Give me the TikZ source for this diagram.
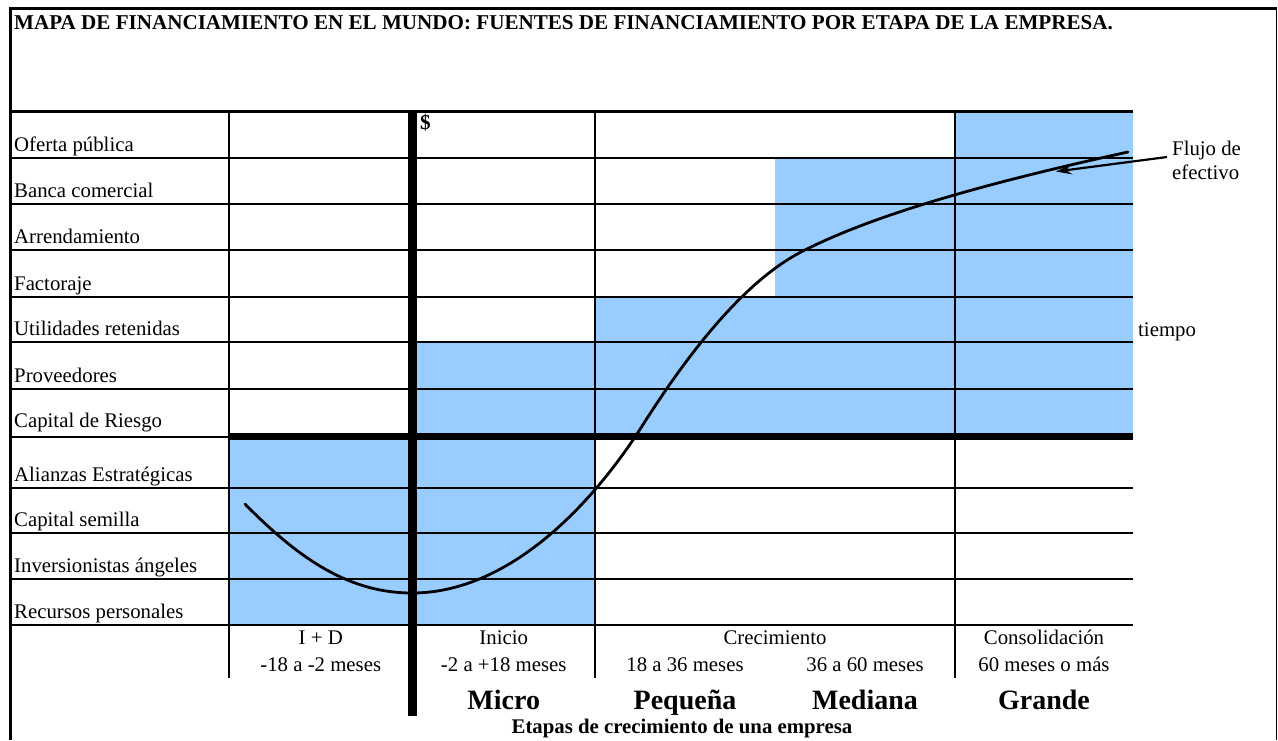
\documentclass[tikz,border=0pt]{standalone}
\usepackage{fontspec}
\setmainfont{Liberation Serif}
\usetikzlibrary{arrows.meta}
\definecolor{cellblue}{RGB}{153,204,255}
\begin{document}
\begin{tikzpicture}[x=1pt,y=-1pt,
  gridline/.style={line width=2pt,black},
  heavyline/.style={line width=7pt,black},
  rowlabel/.style={anchor=base west,inner sep=0pt,font=\fontsize{20.8}{24}\selectfont},
  stagelabel/.style={anchor=base,inner sep=0pt,font=\fontsize{20.8}{24}\selectfont},
  sizelabel/.style={anchor=base,inner sep=0pt,font=\fontsize{28}{32}\selectfont\bfseries},
  boldlabel/.style={inner sep=0pt,font=\fontsize{21.1}{24}\selectfont\bfseries},
  curveline/.style={line width=2.8pt,black,line cap=round},
]
\useasboundingbox (0,0) rectangle (1278,740);
% blue cells
\fill[cellblue] (229,436.5) rectangle (412.5,625);
\fill[cellblue] (412.5,342) rectangle (595,625);
\fill[cellblue] (595,296.5) rectangle (955,436.5);
\fill[cellblue] (775,157.5) rectangle (955,296.5);
\fill[cellblue] (955,111) rectangle (1133,436.5);
% horizontal grid lines
\foreach \yy in {157.5,204,250,296.5,342,388.5,487.5,533,579,625}
  \draw[gridline] (10,\yy) -- (1133,\yy);
\draw[gridline] (10,436.5) -- (229,436.5);
\draw[heavyline] (229,436.5) -- (1133,436.5);
\draw[line width=3pt] (10,111) -- (1133,111);
% vertical grid lines
\foreach \xx in {229,595,955}
  \draw[gridline] (\xx,111) -- (\xx,678);
\draw[line width=9pt] (412.5,111) -- (412.5,716);
% outer frame
\draw[line width=3pt] (10.5,740) -- (10.5,8) -- (1276.5,8);
\draw[line width=1.5pt] (1276.5,8) -- (1276.5,740);
% title
\node[boldlabel,anchor=base west] (title) at (14,29) {MAPA DE FINANCIAMIENTO EN EL MUNDO: FUENTES DE FINANCIAMIENTO POR ETAPA DE LA EMPRESA.};
\node[boldlabel,anchor=base west] (dollar) at (420,129) {\$};
% row labels
\node[rowlabel] (l1) at (14,151) {Oferta pública};
\node[rowlabel] (l2) at (14,197.5) {Banca comercial};
\node[rowlabel] (l3) at (14,243.5) {Arrendamiento};
\node[rowlabel] (l4) at (14,290) {Factoraje};
\node[rowlabel] (l5) at (14,335.5) {Utilidades retenidas};
\node[rowlabel] (l6) at (14,382) {Proveedores};
\node[rowlabel] (l7) at (14,427) {Capital de Riesgo};
\node[rowlabel] (l8) at (14,481) {Alianzas Estratégicas};
\node[rowlabel] (l9) at (14,526.5) {Capital semilla};
\node[rowlabel] (l10) at (14,572.5) {Inversionistas ángeles};
\node[rowlabel] (l11) at (14,618.5) {Recursos personales};
% stage labels
\node[stagelabel] (s1) at (320.75,644) {I + D};
\node[stagelabel] (s1b) at (320.75,671) {-18 a -2 meses};
\node[stagelabel] (s2) at (503.75,644) {Inicio};
\node[stagelabel] (s2b) at (503.75,671) {-2 a +18 meses};
\node[stagelabel] (s3) at (775,644) {Crecimiento};
\node[stagelabel] (s3b) at (685,671) {18 a 36 meses};
\node[stagelabel] (s3c) at (865,671) {36 a 60 meses};
\node[stagelabel] (s4) at (1044,644) {Consolidación};
\node[stagelabel] (s4b) at (1044,671) {60 meses o más};
% size labels
\node[sizelabel] (z1) at (503.75,709) {Micro};
\node[sizelabel] (z2) at (685,709) {Pequeña};
\node[sizelabel] (z3) at (865,709) {Mediana};
\node[sizelabel] (z4) at (1044,709) {Grande};
\node[boldlabel,anchor=base,font=\fontsize{20.8}{24}\selectfont\bfseries] (etapas) at (682,733) {Etapas de crecimiento de una empresa};
% other labels
\node[rowlabel] (tiempo) at (1138,336) {tiempo};
\node[rowlabel] (flujo1) at (1172,155) {Flujo de};
\node[rowlabel] (flujo2) at (1172,179) {efectivo};
% cash flow curve
\coordinate (c0) at (245,504);
\coordinate (c1) at (412,593);
\coordinate (c2) at (637,434);
\coordinate (c3) at (805,250);
\coordinate (c4) at (1128,152);
\draw[curveline] (c0) .. controls (300,560) and (350,593) .. (c1)
  .. controls (500,593) and (580,520) .. (c2)
  .. controls (668,385) and (733,285) .. (c3)
  .. controls (880,212) and (1000,180) .. (c4);
% arrow
\coordinate (flujotail) at (1167,157);
\coordinate (flujotip) at (1056,171.5);
\draw[line width=2.2pt,-{Stealth[length=16pt,width=10pt,inset=6pt]}] (flujotail) -- (flujotip);
\end{tikzpicture}
\end{document}
